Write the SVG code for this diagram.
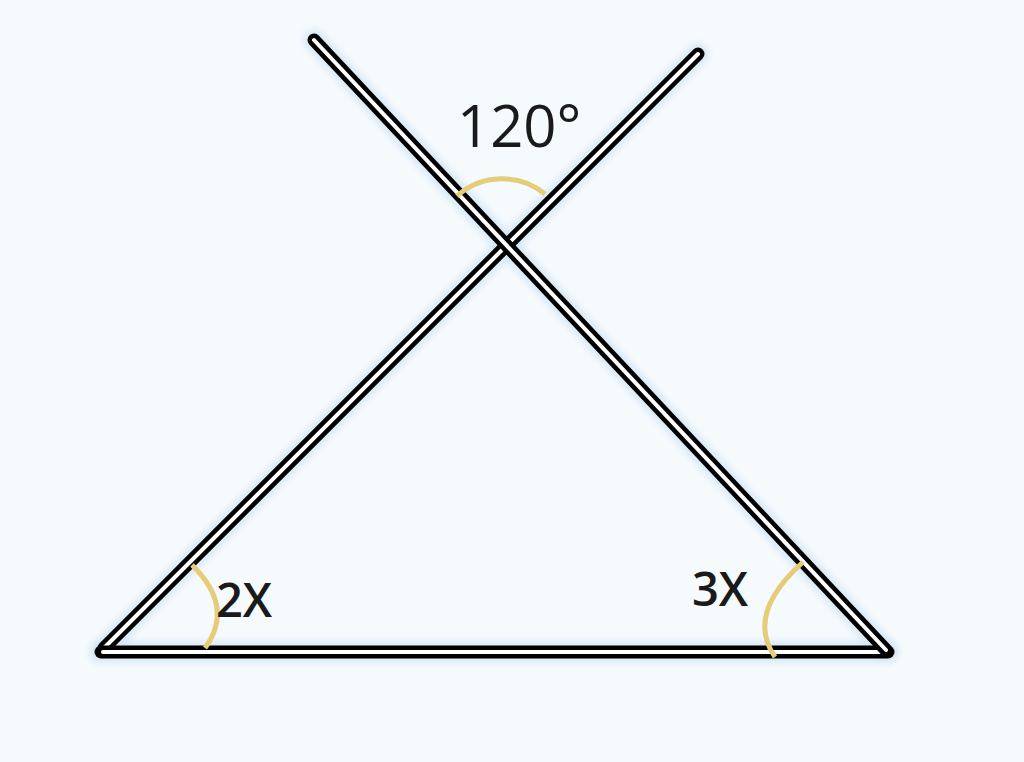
<svg xmlns="http://www.w3.org/2000/svg" width="1024" height="762" viewBox="0 0 1024 762">
<defs>
<style>
.halo{stroke:#cfe3f3;stroke-width:22;stroke-linecap:round;fill:none;opacity:0.7}
.outer{stroke:#000;stroke-width:13;stroke-linecap:round;fill:none}
.inner{stroke:#fff;stroke-width:4;stroke-linecap:round;fill:none}
.arc{stroke:#e6cc78;stroke-width:5;fill:none;stroke-linecap:butt}
.lbl{font-family:"Open Sans","Liberation Sans",sans-serif;fill:#1a1a1a}
</style>
<filter id="blur" x="-10%" y="-10%" width="120%" height="120%"><feGaussianBlur stdDeviation="3"/></filter>
</defs>
<rect width="1024" height="762" fill="#f5fafd"/>
<g id="halo" filter="url(#blur)">
<line class="halo" x1="698" y1="54" x2="104" y2="648"/>
<line class="halo" x1="314" y1="40" x2="886" y2="650"/>
<line class="halo" x1="100" y1="652" x2="888" y2="652"/>
</g>
<g id="lines">
<g id="lineA"><line class="outer" x1="698" y1="54" x2="104" y2="648"/><line class="inner" x1="698" y1="54" x2="104" y2="648"/></g>
<g id="base"><line class="outer" x1="101" y1="652" x2="888" y2="652"/><line class="inner" x1="103" y1="652" x2="880" y2="652"/></g>
<g id="lineB"><line class="outer" x1="314" y1="40" x2="886" y2="650"/><line class="inner" x1="314" y1="40" x2="886" y2="650"/></g>
</g>
<g id="arcs">
<path class="arc" d="M457,196 A68,68 0 0 1 545,194"/>
<path class="arc" d="M192,565 Q235,607 205,648"/>
<path class="arc" d="M803,562 Q745,614 775,657"/>
</g>
<g id="labels">
<text class="lbl" x="457" y="147" font-size="58">120°</text>
<text class="lbl" x="216" y="617" font-size="47" font-weight="600">2X</text>
<text class="lbl" x="692" y="606" font-size="47" font-weight="600">3X</text>
</g>
</svg>
